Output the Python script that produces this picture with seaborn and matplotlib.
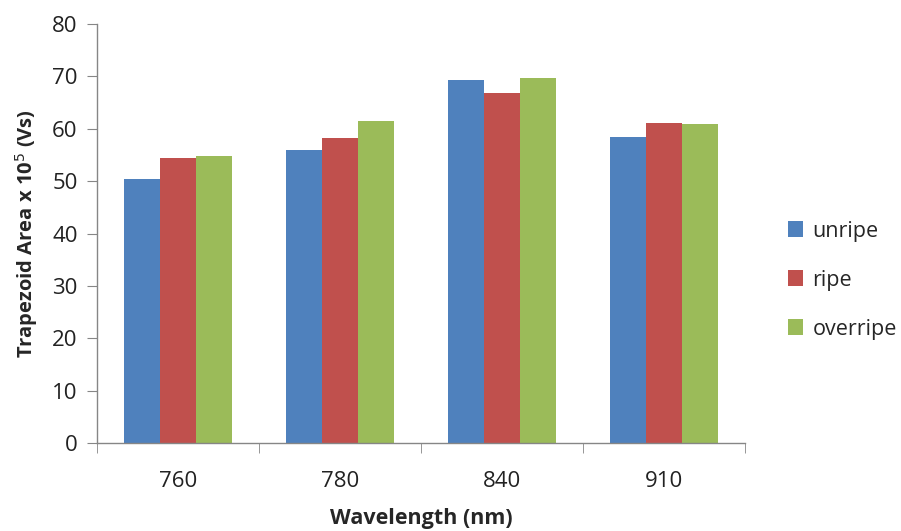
import matplotlib
matplotlib.use("Agg")
import matplotlib.pyplot as plt
import seaborn as sns
import pandas as pd
import numpy as np

wavelengths = ["760", "780", "840", "910"]
series_names = ["unripe", "ripe", "overripe"]
unripe = [50.5, 55.9, 69.4, 58.5]
ripe = [54.4, 58.3, 66.8, 61.2]
overripe = [54.9, 61.4, 69.7, 61.0]
colors = ["#4F81BD", "#C0504D", "#9BBB59"]

df = pd.DataFrame({
    "Wavelength": wavelengths * 3,
    "value": unripe + ripe + overripe,
    "series": [s for s in series_names for _ in wavelengths],
})

sns.set_style("white")
plt.rcParams["font.family"] = ["Open Sans", "DejaVu Sans"]

fig = plt.figure(figsize=(9.01, 5.31), dpi=100)
ax = fig.add_axes([0.1077, 0.1657, 0.719, 0.789])
sns.barplot(data=df, x="Wavelength", y="value", hue="series", order=wavelengths,
            hue_order=series_names, palette=colors, width=0.667, gap=0,
            linewidth=0, saturation=1, ax=ax)

ax.set_ylim(0, 80)
ax.set_xlim(-0.5, 3.5)
ax.set_yticks(range(0, 81, 10))
ax.set_xlabel("Wavelength (nm)", fontsize=15.5, fontweight="bold", labelpad=12)
ax.set_ylabel("Trapezoid Area x 10$^5$ (Vs)", fontsize=14.5, fontweight="bold", labelpad=9)

for s in ["top", "right"]:
    ax.spines[s].set_visible(False)
for s in ["left", "bottom"]:
    ax.spines[s].set_color("#868686")
    ax.spines[s].set_linewidth(1)

ax.tick_params(axis="y", direction="out", length=7, color="#868686", labelsize=16,
               left=True, pad=7, labelcolor="#222222")
ax.tick_params(axis="x", which="major", length=0, labelsize=16, pad=20, labelcolor="#222222")
ax.set_xticks(np.arange(-0.5, 4, 1), minor=True)
ax.tick_params(axis="x", which="minor", direction="out", length=7, color="#868686", bottom=True)

leg = ax.legend(loc="center left", bbox_to_anchor=(1.036, 0.389), frameon=False,
                fontsize=15.5, handlelength=0.7, handleheight=0.7, handletextpad=0.45,
                labelspacing=1.3)

fig.savefig("out.png", dpi=100)
